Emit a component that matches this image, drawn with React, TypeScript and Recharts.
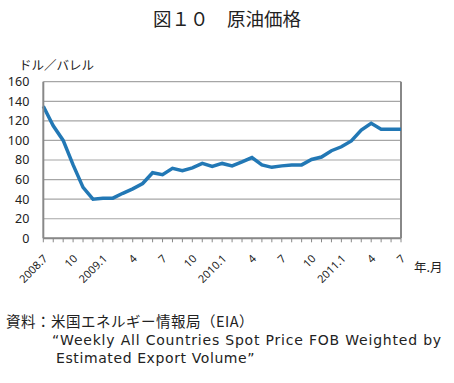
import React from "react";
import { LineChart, Line, XAxis, YAxis, CartesianGrid, ReferenceLine } from "recharts";

const months = [
  "2008.7","2008.8","2008.9","2008.10","2008.11","2008.12",
  "2009.1","2009.2","2009.3","2009.4","2009.5","2009.6",
  "2009.7","2009.8","2009.9","2009.10","2009.11","2009.12",
  "2010.1","2010.2","2010.3","2010.4","2010.5","2010.6",
  "2010.7","2010.8","2010.9","2010.10","2010.11","2010.12",
  "2011.1","2011.2","2011.3","2011.4","2011.5","2011.6","2011.7",
];

const prices = [
  135, 115, 100, 75, 52, 40,
  41, 41, 46, 50.5, 56, 67,
  65, 71.5, 69, 72, 76.5, 73.5,
  76.5, 74, 78, 82.5, 75, 72.5,
  74, 75, 75, 80.5, 83, 89.5,
  93.5, 99.5, 110.5, 117.5, 111.5, 111.5, 111.5,
];

const tickLabels: Record<string, string> = {
  "2008.7": "2008.7",
  "2008.10": "10",
  "2009.1": "2009.1",
  "2009.4": "4",
  "2009.7": "7",
  "2009.10": "10",
  "2010.1": "2010.1",
  "2010.4": "4",
  "2010.7": "7",
  "2010.10": "10",
  "2011.1": "2011.1",
  "2011.4": "4",
  "2011.7": "7",
};

const yTicks = [0, 20, 40, 60, 80, 100, 120, 140, 160];

const data = months.map((m, i) => ({ month: m, price: prices[i] }));

const JP = '"Noto Sans CJK JP", "Noto Sans", sans-serif';
const NUM = '"Noto Sans", "DejaVu Sans", sans-serif';
const LAT = '"DejaVu Sans", "Noto Sans", sans-serif';

const XTick = (props: any) => {
  const { x, y, payload } = props;
  const label = tickLabels[payload.value] || "";
  if (!label) return null;
  return (
    <g transform={`translate(${x + 5},${y + 15})`}>
      <text
        transform="rotate(-45)"
        textAnchor="end"
        fontSize={11}
        fontFamily={NUM}
        fill="#222"
      >
        {label}
      </text>
    </g>
  );
};

export default function App() {
  return (
    <div style={{ position: "absolute", left: 0, top: 0, width: 454, height: 383, background: "#fff" }}>
      <div style={{ position: "absolute", left: 0, top: 6, width: 454, textAlign: "center", fontFamily: JP, fontSize: 18.5, color: "#222", lineHeight: "24px" }}>
        図１０　原油価格
      </div>
      <div style={{ position: "absolute", left: 19, top: 56, fontFamily: JP, fontSize: 12.5, color: "#222", lineHeight: "18px" }}>
        ドル／バレル
      </div>
      <LineChart
        width={454}
        height={383}
        data={data}
        margin={{ top: 81.7, right: 53, bottom: 84.7, left: 0 }}
        style={{ position: "absolute", left: 0, top: 0 }}
      >
        <CartesianGrid vertical={false} stroke="#a6a6a6" strokeWidth={1.2} />
        <XAxis
          dataKey="month"
          interval={0}
          height={60}
          tick={<XTick />}
          tickLine={{ stroke: "#888", strokeWidth: 1 }}
          tickSize={4}
          axisLine={{ stroke: "#888", strokeWidth: 2 }}
        />
        <YAxis
          domain={[0, 160]}
          ticks={yTicks}
          width={43.3}
          interval={0}
          tickLine={false}
          axisLine={{ stroke: "#888", strokeWidth: 2 }}
          tick={{ fontSize: 12.5, fontFamily: NUM, fill: "#222" }}
          tickMargin={8}
        />
        <ReferenceLine x="2011.7" stroke="#888" strokeWidth={2} />
        <Line
          type="linear"
          dataKey="price"
          stroke="#2278b5"
          strokeWidth={3.5}
          dot={false}
          isAnimationActive={false}
        />
      </LineChart>
      <div style={{ position: "absolute", left: 414, top: 258, fontFamily: JP, fontSize: 12.5, color: "#222", lineHeight: "18px" }}>
        年.月
      </div>
      <div style={{ position: "absolute", left: 6, top: 311, fontFamily: JP, fontSize: 14.5, letterSpacing: 0.5, color: "#222", lineHeight: "19px", whiteSpace: "pre" }}>
        資料：米国エネルギー情報局（EIA）
      </div>
      <div style={{ position: "absolute", left: 52, top: 331, fontFamily: LAT, fontSize: 14, letterSpacing: 0.8, color: "#222", lineHeight: "19px", whiteSpace: "pre" }}>
        “Weekly All Countries Spot Price FOB Weighted by
      </div>
      <div style={{ position: "absolute", left: 56, top: 349, fontFamily: LAT, fontSize: 14, letterSpacing: 0.6, color: "#222", lineHeight: "19px", whiteSpace: "pre" }}>
        Estimated Export Volume”
      </div>
    </div>
  );
}
